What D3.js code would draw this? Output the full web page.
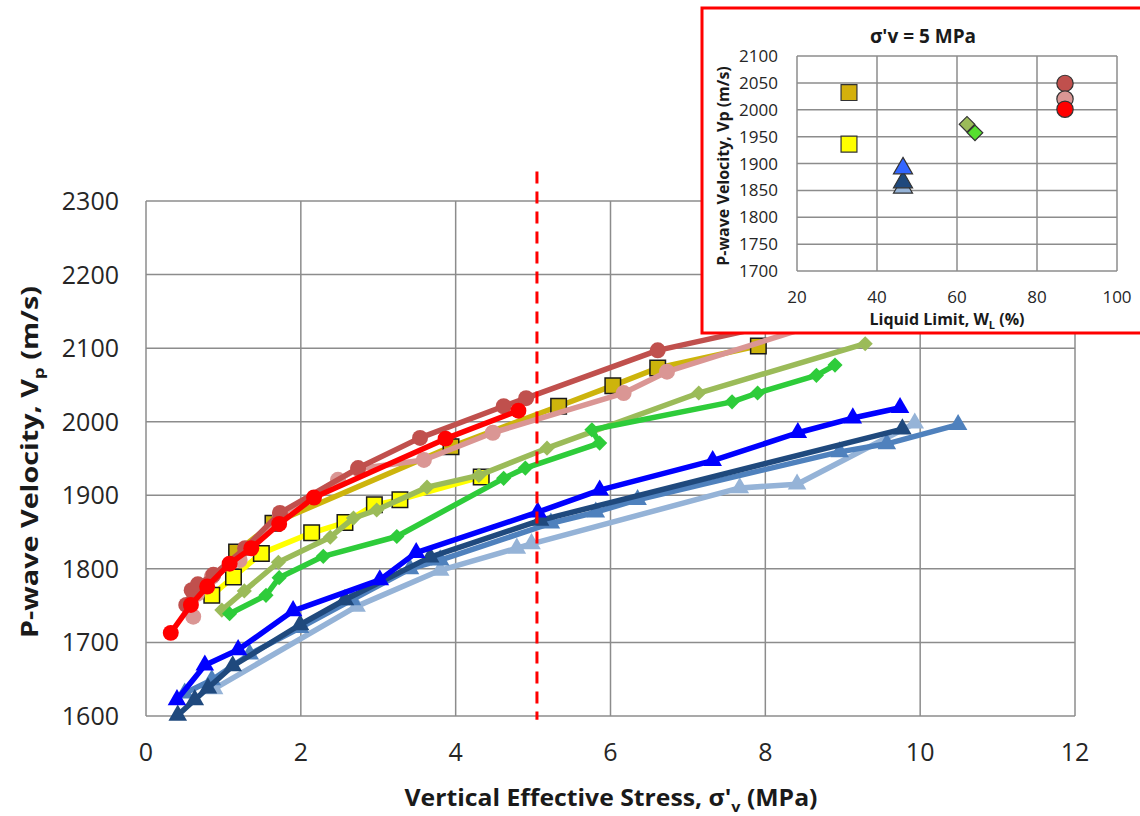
<!DOCTYPE html>
<html lang="en">
<head>
  <meta charset="UTF-8">
  <title>P-wave Velocity vs Vertical Effective Stress</title>
  <script src="https://d3js.org/d3.v7.min.js"></script>
  <style>
    body {
      margin: 0;
      background: #fff;
    }
    svg {
      display: block;
      font-family: "Open Sans", sans-serif;
    }
    .grid line {
      stroke: #8c8c8c;
      stroke-width: 1.5px;
    }
    .tick-label {
      font-size: 25px;
      fill: #262626;
    }
    .axis-title {
      font-size: 23px;
      font-weight: bold;
      fill: #1a1a1a;
    }
    .series-line {
      fill: none;
      stroke-width: 5.5px;
      stroke-linejoin: round;
      stroke-linecap: round;
    }
    .inset-grid line {
      stroke: #8c8c8c;
      stroke-width: 1.5px;
    }
    .inset-label {
      font-size: 17px;
      fill: #262626;
    }
    .inset-title {
      font-size: 16px;
      font-weight: bold;
      fill: #1a1a1a;
    }
    .inset-main-title {
      font-size: 19px;
      font-weight: bold;
      fill: #1a1a1a;
    }
  </style>
</head>
<body>
  <svg width="1140" height="816"></svg>

  <script>
    // main chart ticks
    const xTicks = [0, 2, 4, 6, 8, 10, 12];
    const yTicks = [1600, 1700, 1800, 1900, 2000, 2100, 2200, 2300];

    // [vertical effective stress (MPa), Vp (m/s)]
    const lightBlue = [[0.88, 1637], [2.72, 1749], [3.80, 1798], [4.79, 1828], [4.98, 1834],
      [7.67, 1910], [8.41, 1915], [9.93, 1998]];
    const steelBlue = [[0.50, 1631], [0.85, 1649], [1.34, 1684], [1.99, 1720], [2.66, 1758],
      [3.41, 1800], [3.80, 1812], [5.23, 1862], [5.81, 1877], [6.35, 1894], [8.96, 1959],
      [9.57, 1970], [10.49, 1996]];
    const navy = [[0.41, 1601], [0.63, 1622], [0.80, 1638], [1.12, 1668], [1.99, 1724],
      [2.57, 1758], [3.67, 1816], [5.09, 1866], [9.77, 1990]];
    const blue = [[0.40, 1622], [0.76, 1669], [1.19, 1690], [1.90, 1743], [3.02, 1785],
      [3.49, 1822], [5.06, 1877], [5.86, 1907], [7.32, 1947], [8.42, 1985], [9.13, 2005],
      [9.74, 2019]];
    const yellow = [[0.85, 1764], [1.13, 1789], [1.49, 1821], [2.14, 1849], [2.57, 1863],
      [2.95, 1887], [3.28, 1894], [4.33, 1925]];
    const olive = [[0.98, 1744], [1.27, 1770], [1.71, 1809], [2.38, 1843], [2.68, 1869],
      [2.98, 1880], [3.63, 1911], [4.30, 1927], [5.18, 1964], [7.14, 2039], [9.29, 2106]];
    const green = [[1.08, 1739], [1.55, 1764], [1.72, 1788], [2.29, 1817], [3.24, 1844],
      [4.62, 1923], [4.90, 1937], [5.86, 1971], [5.76, 1989], [7.57, 2027], [7.90, 2039],
      [8.66, 2063], [8.90, 2077]];
    const darkYellow = [[1.17, 1823], [1.64, 1862], [3.94, 1966], [5.33, 2021], [6.03, 2049],
      [6.61, 2073], [7.91, 2103]];
    const pink = [[0.61, 1735], [0.66, 1766], [0.85, 1789], [1.21, 1812], [1.73, 1873],
      [2.48, 1921], [2.74, 1936], [3.59, 1948], [4.48, 1985], [6.17, 2039], [6.73, 2068],
      [8.90, 2140]];
    const darkRed = [[0.52, 1751], [0.59, 1771], [0.67, 1779], [0.87, 1792], [1.28, 1828],
      [1.73, 1876], [2.74, 1937], [3.54, 1978], [4.62, 2021], [4.91, 2032], [6.61, 2097],
      [8.90, 2150]];
    const red = [[0.32, 1713], [0.58, 1751], [0.79, 1776], [1.08, 1807], [1.36, 1828],
      [1.72, 1861], [2.17, 1897], [3.87, 1977], [4.81, 2015]];

    const refStress = 5.05;

    // inset: Vp at 5 MPa vs liquid limit
    const insetXTicks = [20, 40, 60, 80, 100];
    const insetYTicks = [1700, 1750, 1800, 1850, 1900, 1950, 2000, 2050, 2100];
    const insetLL = [33, 33, 46.5, 46.5, 46.5, 62.5, 64.5, 87, 87, 87];
    const insetVp = [2032, 1936, 1855, 1865, 1891, 1973, 1957, 2049, 2020, 2001];
    const insetColor = ["#D4B00C", "#FFFF00", "#95B3D7", "#1F497D", "#3366FF",
      "#9BBB59", "#55E02E", "#C0504D", "#DA9694", "#FF0000"];
    const insetShape = ["square", "square", "triangle", "triangle", "triangle",
      "diamond", "diamond", "circle", "circle", "circle"];

    // drawing order bottom -> top
    const series = [
      { data: lightBlue, color: "#95B3D7", marker: "triangle" },
      { data: steelBlue, color: "#4F81BD", marker: "triangle" },
      { data: navy, color: "#1F497D", marker: "triangle" },
      { data: blue, color: "#0000FF", marker: "triangle" },
      { data: yellow, color: "#FFFF00", marker: "square" },
      { data: olive, color: "#9BBB59", marker: "diamond" },
      { data: green, color: "#2ECC3A", marker: "diamond" },
      { data: darkYellow, color: "#CDB40C", marker: "square" },
      { data: pink, color: "#DA9694", marker: "circle" },
      { data: darkRed, color: "#C0504D", marker: "circle" },
      { data: red, color: "#FF0000", marker: "circle" }
    ];

    const svg = d3.select("svg");

    const x = d3.scaleLinear().domain([0, 12]).range([146, 1075]);
    const y = d3.scaleLinear().domain([1600, 2300]).range([716, 201]);

    function symbolPath(shape, scale) {
      if (shape === "circle") return d3.symbol(d3.symbolCircle, 200 * scale)();
      if (shape === "square") return d3.symbol(d3.symbolSquare, 240 * scale)();
      if (shape === "diamond") return d3.symbol(d3.symbolSquare, 115 * scale)();
      return d3.symbol(d3.symbolTriangle, 150 * scale)();
    }

    // gridlines
    const grid = svg.append("g").attr("class", "grid");
    grid.selectAll(".gx")
      .data(xTicks)
      .join("line")
      .attr("x1", d => x(d)).attr("x2", d => x(d))
      .attr("y1", y(1600)).attr("y2", y(2300));
    grid.selectAll(".gy")
      .data(yTicks)
      .join("line")
      .attr("x1", x(0)).attr("x2", x(12))
      .attr("y1", d => y(d)).attr("y2", d => y(d));

    // tick labels
    svg.append("g").selectAll("text")
      .data(xTicks)
      .join("text")
      .attr("class", "tick-label")
      .attr("x", d => x(d))
      .attr("y", 761)
      .attr("text-anchor", "middle")
      .text(d => d);

    svg.append("g").selectAll("text")
      .data(yTicks)
      .join("text")
      .attr("class", "tick-label")
      .attr("x", 119)
      .attr("y", d => y(d) + 9)
      .attr("text-anchor", "end")
      .text(d => d);

    // axis titles
    const xTitle = svg.append("text")
      .attr("class", "axis-title")
      .attr("x", 611)
      .attr("y", 806)
      .attr("text-anchor", "middle")
      .attr("textLength", 413)
      .attr("lengthAdjust", "spacingAndGlyphs");
    xTitle.append("tspan").text("Vertical Effective Stress, σ'");
    xTitle.append("tspan").attr("font-size", 15).attr("dy", 6).text("v");
    xTitle.append("tspan").attr("dy", -6).text(" (MPa)");

    const yTitle = svg.append("text")
      .attr("class", "axis-title")
      .attr("transform", "translate(38,462) rotate(-90)")
      .attr("text-anchor", "middle")
      .attr("textLength", 352)
      .attr("lengthAdjust", "spacingAndGlyphs");
    yTitle.append("tspan").text("P-wave Velocity, V");
    yTitle.append("tspan").attr("font-size", 15).attr("dy", 6).text("p");
    yTitle.append("tspan").attr("dy", -6).text(" (m/s)");

    // series
    const line = d3.line().x(d => x(d[0])).y(d => y(d[1]));

    series.forEach(s => {
      const g = svg.append("g");
      g.append("path")
        .datum(s.data)
        .attr("class", "series-line")
        .attr("stroke", s.color)
        .attr("d", line);

      g.selectAll("path.marker")
        .data(s.data)
        .join("path")
        .attr("class", "marker")
        .attr("d", symbolPath(s.marker, 1))
        .attr("transform", d => `translate(${x(d[0])},${y(d[1])})` + (s.marker === "diamond" ? " rotate(45)" : ""))
        .attr("fill", s.color)
        .attr("stroke", s.marker === "square" ? "#1a1a1a" : "none")
        .attr("stroke-width", 1.5);
    });

    // reference stress line
    svg.append("line")
      .attr("x1", x(refStress)).attr("x2", x(refStress))
      .attr("y1", y(2340)).attr("y2", y(1595))
      .attr("stroke", "#FF0000")
      .attr("stroke-width", 3)
      .attr("stroke-dasharray", "12,8");

    // ---------- inset ----------
    const inset = svg.append("g");
    inset.append("rect")
      .attr("x", 702).attr("y", 8)
      .attr("width", 450).attr("height", 325)
      .attr("fill", "#fff")
      .attr("stroke", "#FF0000")
      .attr("stroke-width", 3);

    const ix = d3.scaleLinear().domain([20, 100]).range([797, 1117]);
    const iy = d3.scaleLinear().domain([1700, 2100]).range([271, 56]);

    const igrid = inset.append("g").attr("class", "inset-grid");
    igrid.selectAll(".ix")
      .data(insetXTicks)
      .join("line")
      .attr("x1", d => ix(d)).attr("x2", d => ix(d))
      .attr("y1", iy(1700)).attr("y2", iy(2100));
    igrid.selectAll(".iy")
      .data(insetYTicks)
      .join("line")
      .attr("x1", ix(20)).attr("x2", ix(100))
      .attr("y1", d => iy(d)).attr("y2", d => iy(d));

    inset.append("g").selectAll("text")
      .data(insetXTicks)
      .join("text")
      .attr("class", "inset-label")
      .attr("x", d => ix(d))
      .attr("y", 303)
      .attr("text-anchor", "middle")
      .text(d => d);

    inset.append("g").selectAll("text")
      .data(insetYTicks)
      .join("text")
      .attr("class", "inset-label")
      .attr("x", 778)
      .attr("y", d => iy(d) + 6)
      .attr("text-anchor", "end")
      .text(d => d);

    inset.append("text")
      .attr("class", "inset-main-title")
      .attr("x", 923)
      .attr("y", 43)
      .attr("text-anchor", "middle")
      .text("σ'v = 5 MPa");

    const ixTitle = inset.append("text")
      .attr("class", "inset-title")
      .attr("x", 947)
      .attr("y", 325)
      .attr("text-anchor", "middle");
    ixTitle.append("tspan").text("Liquid Limit, W");
    ixTitle.append("tspan").attr("font-size", 11).attr("dy", 4).text("L");
    ixTitle.append("tspan").attr("dy", -4).text(" (%)");

    inset.append("text")
      .attr("class", "inset-title")
      .attr("transform", "translate(729,166) rotate(-90)")
      .attr("text-anchor", "middle")
      .text("P-wave Velocity, Vp (m/s)");

    inset.append("g").selectAll("path")
      .data(insetLL.map((v, i) => i))
      .join("path")
      .attr("d", i => symbolPath(insetShape[i], 1.05))
      .attr("transform", i => `translate(${ix(insetLL[i])},${iy(insetVp[i])})` + (insetShape[i] === "diamond" ? " rotate(45)" : ""))
      .attr("fill", i => insetColor[i])
      .attr("stroke", "#333")
      .attr("stroke-width", 1.2);
  </script>
</body>
</html>
